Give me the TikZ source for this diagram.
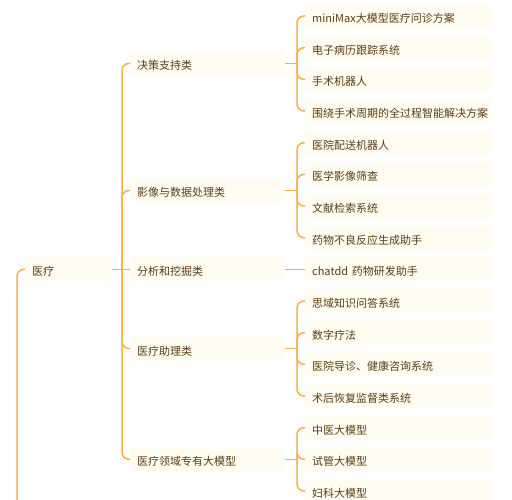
\documentclass[tikz,border=0pt]{standalone}
\usepackage{fontspec}
\setmainfont{Noto Sans CJK SC}
\definecolor{linec}{HTML}{F2B24E}
\definecolor{boxc}{HTML}{FFFDF2}
\definecolor{textc}{HTML}{5C3C12}
\tikzset{
  base/.style={anchor=west, fill=boxc, text=textc, font=\fontsize{11}{13}\selectfont,
    minimum height=24, inner xsep=7, inner ysep=0, align=left, text height=13, text depth=0},
  rootbox/.style={base, text width=73},
  lvone/.style={base, text width=141},
  lvtwo/.style={base, text width=173},
  conn/.style={draw=linec, line width=1.5, rounded corners=7},
}
\begin{document}
\begin{tikzpicture}[x=1pt,y=-1pt]
\useasboundingbox[fill=white] (0,0) rectangle (512,500);
% bracket x positions
\coordinate (k0) at (122,0);
\coordinate (kk) at (297,0);
\coordinate (kr) at (17,500);
% root
\node[rootbox] (r) at (25,269.3) {医疗};
% level 1
\node[lvone] (a1) at (130,63.5) {决策支持类};
\node[lvone] (a2) at (130,190.5) {影像与数据处理类};
\node[lvone] (a3) at (130,269.3) {分析和挖掘类};
\node[lvone] (a4) at (130,348.5) {医疗助理类};
\node[lvone] (a5) at (130,459.3) {医疗领域专有大模型};
% level 2
\node[lvtwo] (c11) at (305,16) {miniMax大模型医疗问诊方案};
\node[lvtwo] (c12) at (305,47.7) {电子病历跟踪系统};
\node[lvtwo] (c13) at (305,79.3) {手术机器人};
\node[lvtwo] (c14) at (305,111) {围绕手术周期的全过程智能解决方案};
\node[lvtwo] (c21) at (305,142.7) {医院配送机器人};
\node[lvtwo] (c22) at (305,174.3) {医学影像筛查};
\node[lvtwo] (c23) at (305,206) {文献检索系统};
\node[lvtwo] (c24) at (305,237.7) {药物不良反应生成助手};
\node[lvtwo] (c31) at (305,269.3) {chatdd 药物研发助手};
\node[lvtwo] (c41) at (305,301) {思域知识问答系统};
\node[lvtwo] (c42) at (305,332.7) {数字疗法};
\node[lvtwo] (c43) at (305,364.3) {医院导诊、健康咨询系统};
\node[lvtwo] (c44) at (305,396) {术后恢复监督类系统};
\node[lvtwo] (c51) at (305,427.7) {中医大模型};
\node[lvtwo] (c52) at (305,459.3) {试管大模型};
\node[lvtwo] (c53) at (305,491) {妇科大模型};
% root's own bracket
\draw[conn] (r.west) -| (kr);
% root -> level 1
\draw[conn] (r.east) -- (a3.west);
\foreach \c in {a1,a2,a4,a5}{
  \draw[conn] (r.east -| k0) |- (\c.west);
}
% level 1 -> level 2
\foreach \p/\cs in {a1/{c11,c12,c13,c14}, a2/{c21,c22,c23,c24}, a4/{c41,c42,c43,c44}, a5/{c51,c52,c53}}{
  \draw[conn] (\p.east) -- (\p.east -| kk);
  \foreach \c in \cs {
    \draw[conn] (\p.east -| kk) |- (\c.west);
  }
}
\draw[conn] (a3.east) -- (c31.west);
\end{tikzpicture}
\end{document}
